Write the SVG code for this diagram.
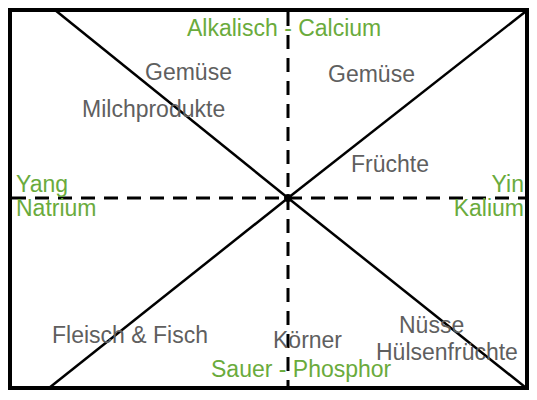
<svg xmlns="http://www.w3.org/2000/svg" width="537" height="400" viewBox="0 0 537 400">
<style>
.frame{fill:none;stroke:#000;stroke-width:4}
.diag{stroke:#000;stroke-width:2.5;fill:none}
.dash{stroke:#000;stroke-width:3;stroke-dasharray:14 9;fill:none}
text{font-family:"Liberation Sans",Arial,sans-serif;font-size:23px}
.g{fill:#6aab3c}
.t{fill:#5f5f5f}
</style>
<rect width="537" height="400" fill="#fff"/>
<g id="connectors">
<line class="dash" x1="288" y1="12" x2="288" y2="388"/>
<line class="dash" x1="12" y1="198" x2="525" y2="198"/>
<line class="diag" x1="55" y1="10" x2="288" y2="198"/>
<line class="diag" x1="525" y1="12" x2="288" y2="198"/>
<line class="diag" x1="49" y1="388" x2="288" y2="198"/>
<line class="diag" x1="525" y1="387" x2="288" y2="198"/>
<circle cx="288" cy="198" r="4" fill="#000"/>
</g>
<g id="frame"><rect class="frame" x="10" y="10" width="517" height="378"/></g>
<g id="axis-top"><text class="g" x="187" y="36">Alkalisch - Calcium</text></g>
<g id="axis-bottom"><text class="g" x="211" y="377">Sauer - Phosphor</text></g>
<g id="axis-left"><text class="g" x="16" y="192">Yang</text><text class="g" x="16" y="216">Natrium</text></g>
<g id="axis-right"><text class="g" x="524" y="192" text-anchor="end">Yin</text><text class="g" x="524" y="216" text-anchor="end">Kalium</text></g>
<g id="n-gemuese-left"><text class="t" x="145" y="80">Gemüse</text></g>
<g id="n-milch"><text class="t" x="82" y="117">Milchprodukte</text></g>
<g id="n-gemuese-right"><text class="t" x="328" y="82">Gemüse</text></g>
<g id="n-fruechte"><text class="t" x="351" y="172">Früchte</text></g>
<g id="n-fleisch"><text class="t" x="52" y="343">Fleisch &amp; Fisch</text></g>
<g id="n-koerner"><text class="t" x="273" y="348">Körner</text></g>
<g id="n-nuesse"><text class="t" x="399" y="333">Nüsse</text></g>
<g id="n-huelsen"><text class="t" x="376" y="360">Hülsenfrüchte</text></g>
</svg>
